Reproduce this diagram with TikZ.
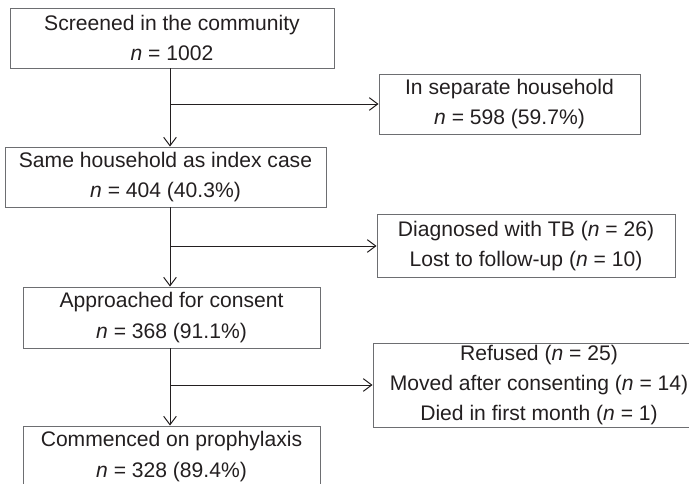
\documentclass[tikz,border=0pt]{standalone}
\usepackage{fontspec}
\setmainfont{Liberation Sans}
\usetikzlibrary{arrows.meta}
\definecolor{inkc}{HTML}{231F20}
\definecolor{framec}{HTML}{6D6E71}
\def\nv#1{\textit{n} = #1}
\def\px{0.025cm}

\begin{document}
\begin{tikzpicture}[x=\px, y=-\px,
		box/.style={draw=framec, line width=0.7pt, align=center, inner sep=0pt,
			text=inkc, font=\fontsize{15}{21.5}\selectfont},
		arr/.style={draw=inkc, line width=0.7pt, -{Straight Barb[length=6pt,width=9pt]}}]
			%%%%% START %%%%%
			
			\clip (0, 0) rectangle (689, 484);
			
			% main column
			\node[box, minimum width=324*\px, minimum height=60*\px] (screened) at (172, 38)
				{Screened in the community\\ \nv{1002}};
			\node[box, minimum width=321*\px, minimum height=60*\px] (samehh) at (165.5, 177)
				{Same household as index case\\ \nv{404 (40.3\%)}};
			\node[box, minimum width=297*\px, minimum height=61*\px] (approached) at (171.5, 317.5)
				{Approached for consent\\ \nv{368 (91.1\%)}};
			\node[box, minimum width=297*\px, minimum height=61*\px] (commenced) at (171.5, 456.5)
				{Commenced on prophylaxis\\ \nv{328 (89.4\%)}};
			
			% side boxes
			\node[box, minimum width=261*\px, minimum height=60*\px] (separate) at (509.5, 104)
				{In separate household\\ \nv{598 (59.7\%)}};
			\node[box, minimum width=298*\px, minimum height=63*\px] (diagnosed) at (526, 246)
				{Diagnosed with TB (\nv{26})\\ Lost to follow-up (\nv{10})};
			\node[box, minimum width=332*\px, minimum height=84*\px] (refused) at (539, 385)
				{Refused (\nv{25})\\ Moved after consenting (\nv{14})\\ Died in first month (\nv{1})};
			
			% branch points
			\coordinate (split1) at (170, 104);
			\coordinate (split2) at (170, 246);
			\coordinate (split3) at (170, 385);
			
			\draw[arr] (screened.south -| split1) -- (samehh.north -| split1);
			\draw[arr] (samehh.south -| split2) -- (approached.north -| split2);
			\draw[arr] (approached.south -| split3) -- (commenced.north -| split3);
			
			\draw[arr] (split1) -- (separate.west);
			\draw[arr] (split2) -- (diagnosed.west);
			\draw[arr] (split3) -- (refused.west);
			
			%%%%% END %%%%%
		\end{tikzpicture}
\end{document}
